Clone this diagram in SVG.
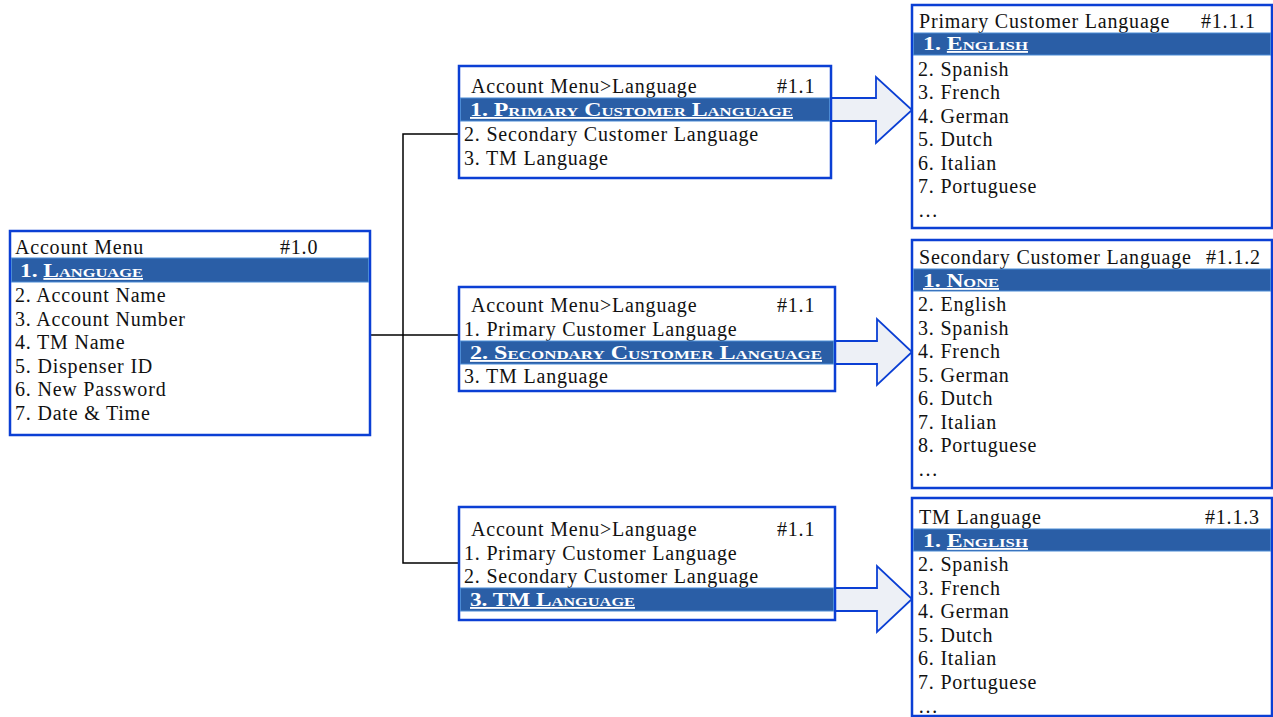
<svg xmlns="http://www.w3.org/2000/svg" width="1273" height="717" viewBox="0 0 1273 717">
<style>
.box{fill:#fff;stroke:#0b3fd4;stroke-width:2.5}
.bar{fill:#2a5ea6;stroke:#4b8bd6;stroke-width:1}
.t{font-family:"Liberation Serif","Times New Roman",serif;font-size:20px;letter-spacing:0.8px;fill:#111}
.h{font-family:"Liberation Serif","Times New Roman",serif;font-size:18.5px;fill:#fff;font-weight:bold;font-variant:small-caps}
.u{text-decoration:underline}
.conn{fill:none;stroke:#000;stroke-width:1.5}
.arr{fill:#edf0f6;stroke:#0b3fd4;stroke-width:1.8;stroke-linejoin:miter}
</style>
<g id="connectors">
<polyline class="conn" points="459,134 403,134 403,563 459,563"/>
<line class="conn" x1="370" y1="335" x2="459" y2="335"/>
<polygon class="arr" points="831,98 876,98 876,77 912,110 876,143 876,121 831,121"/>
<polygon class="arr" points="835,341 877,341 877,319 912,352 877,385 877,364 835,364"/>
<polygon class="arr" points="835,588 877,588 877,566 912,599 877,632 877,611 835,611"/>
</g>
<g id="node-1-0">
<rect class="box" x="10" y="231" width="360" height="204"/>
<text class="t" x="15" y="254">Account Menu</text>
<text class="t" x="280" y="254">#1.0</text>
<rect class="bar" x="11.5" y="258" width="357" height="24"/>
<text class="h" x="20" y="277" textLength="123" lengthAdjust="spacingAndGlyphs">1. <tspan class="u">Language</tspan></text>
<text class="t" x="15" y="302">2. Account Name</text>
<text class="t" x="15" y="326">3. Account Number</text>
<text class="t" x="15" y="349">4. TM Name</text>
<text class="t" x="15" y="373">5. Dispenser ID</text>
<text class="t" x="15" y="396">6. New Password</text>
<text class="t" x="15" y="420">7. Date &amp; Time</text>
</g>
<g id="node-1-1-a">
<rect class="box" x="459" y="66" width="372" height="112"/>
<text class="t" x="471" y="93">Account Menu&gt;Language</text>
<text class="t" x="777" y="93">#1.1</text>
<rect class="bar" x="460.5" y="98" width="369" height="23"/>
<text class="h u" x="470" y="116" textLength="323" lengthAdjust="spacingAndGlyphs">1. Primary Customer Language</text>
<text class="t" x="464" y="141">2. Secondary Customer Language</text>
<text class="t" x="464" y="165">3. TM Language</text>
</g>
<g id="node-1-1-b">
<rect class="box" x="459" y="287" width="376" height="104"/>
<text class="t" x="471" y="312">Account Menu&gt;Language</text>
<text class="t" x="777" y="312">#1.1</text>
<text class="t" x="464" y="336">1. Primary Customer Language</text>
<rect class="bar" x="460.5" y="341" width="373" height="23"/>
<text class="h u" x="470" y="359" textLength="352" lengthAdjust="spacingAndGlyphs">2. Secondary Customer Language</text>
<text class="t" x="464" y="383">3. TM Language</text>
</g>
<g id="node-1-1-c">
<rect class="box" x="459" y="507" width="376" height="113"/>
<text class="t" x="471" y="536">Account Menu&gt;Language</text>
<text class="t" x="777" y="536">#1.1</text>
<text class="t" x="464" y="560">1. Primary Customer Language</text>
<text class="t" x="464" y="583">2. Secondary Customer Language</text>
<rect class="bar" x="460.5" y="588" width="373" height="23"/>
<text class="h u" x="470" y="606" textLength="165" lengthAdjust="spacingAndGlyphs">3. TM Language</text>
</g>
<g id="node-1-1-1">
<rect class="box" x="912" y="5" width="360" height="223"/>
<text class="t" x="919" y="28">Primary Customer Language</text>
<text class="t" x="1201" y="28">#1.1.1</text>
<rect class="bar" x="913.5" y="33" width="357" height="22"/>
<text class="h" x="923" y="50" textLength="105" lengthAdjust="spacingAndGlyphs">1. <tspan class="u">English</tspan></text>
<text class="t" x="918" y="76">2. Spanish</text>
<text class="t" x="918" y="99">3. French</text>
<text class="t" x="918" y="123">4. German</text>
<text class="t" x="918" y="146">5. Dutch</text>
<text class="t" x="918" y="170">6. Italian</text>
<text class="t" x="918" y="193">7. Portuguese</text>
<text class="t" x="918" y="217">…</text>
</g>
<g id="node-1-1-2">
<rect class="box" x="912" y="240" width="360" height="248"/>
<text class="t" x="919" y="264">Secondary Customer Language</text>
<text class="t" x="1206" y="264">#1.1.2</text>
<rect class="bar" x="913.5" y="269" width="357" height="22"/>
<text class="h u" x="923" y="287" textLength="76" lengthAdjust="spacingAndGlyphs">1. None</text>
<text class="t" x="918" y="311">2. English</text>
<text class="t" x="918" y="335">3. Spanish</text>
<text class="t" x="918" y="358">4. French</text>
<text class="t" x="918" y="382">5. German</text>
<text class="t" x="918" y="405">6. Dutch</text>
<text class="t" x="918" y="429">7. Italian</text>
<text class="t" x="918" y="452">8. Portuguese</text>
<text class="t" x="918" y="476">…</text>
</g>
<g id="node-1-1-3">
<rect class="box" x="912" y="498" width="360" height="218"/>
<text class="t" x="919" y="524">TM Language</text>
<text class="t" x="1205" y="524">#1.1.3</text>
<rect class="bar" x="913.5" y="529" width="357" height="22"/>
<text class="h" x="923" y="547" textLength="105" lengthAdjust="spacingAndGlyphs">1. <tspan class="u">English</tspan></text>
<text class="t" x="918" y="571">2. Spanish</text>
<text class="t" x="918" y="595">3. French</text>
<text class="t" x="918" y="618">4. German</text>
<text class="t" x="918" y="642">5. Dutch</text>
<text class="t" x="918" y="665">6. Italian</text>
<text class="t" x="918" y="689">7. Portuguese</text>
<text class="t" x="918" y="713">…</text>
</g>
</svg>
